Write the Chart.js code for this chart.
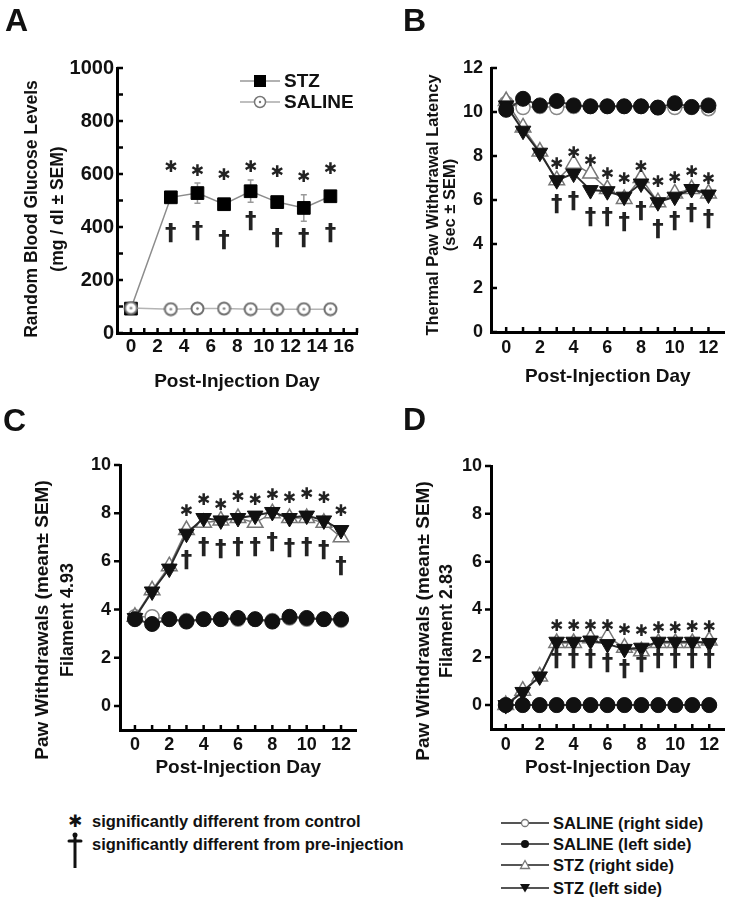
<!DOCTYPE html>
<html>
<head>
<meta charset="utf-8">
<title>STZ time course</title>
<script src="https://cdn.jsdelivr.net/npm/chart.js@4.4.1/dist/chart.umd.min.js"></script>
<style>
  body { margin: 0; background: #fff; }
  #page { position: relative; width: 735px; height: 899px; overflow: hidden;
          font-family: "Liberation Sans", Arial, sans-serif; font-weight: bold; color: #111; }
  #page canvas { position: absolute; }
  .letter { position: absolute; font-size: 32px; line-height: 1; }
  .ytitle { position: absolute; white-space: nowrap; text-align: center;
            transform: translate(-50%, -50%) rotate(-90deg); }
  .leg { position: absolute; white-space: nowrap; display: flex; align-items: center; }
  .leg svg { margin-right: 4px; }
</style>
</head>
<body>
<div id="page">
  <canvas id="chartA" style="left:0;top:0" width="367" height="400"></canvas>
  <canvas id="chartB" style="left:368px;top:0" width="367" height="400"></canvas>
  <canvas id="chartC" style="left:0;top:400px" width="367" height="400"></canvas>
  <canvas id="chartD" style="left:368px;top:400px" width="367" height="400"></canvas>

  <div class="letter" style="left:5px;top:4px">A</div>
  <div class="letter" style="left:403px;top:4px">B</div>
  <div class="letter" style="left:3px;top:404px">C</div>
  <div class="letter" style="left:403px;top:403px">D</div>

  <div class="ytitle" style="left:44px;top:209px;font-size:17.5px;line-height:26px">Random Blood Glucose Levels<br>(mg / dl ± SEM)</div>
  <div class="ytitle" style="left:441px;top:205px;font-size:16.5px;line-height:17px">Thermal Paw Withdrawal Latency<br>(sec ± SEM)</div>
  <div class="ytitle" style="left:55px;top:620px;line-height:24px"><span style="font-size:19px">Paw Withdrawals (mean± SEM)</span><br><span style="font-size:18px">Filament 4.93</span></div>
  <div class="ytitle" style="left:434px;top:621px;line-height:23px"><span style="font-size:19px">Paw Withdrawals (mean± SEM)</span><br><span style="font-size:18px">Filament 2.83</span></div>

  <!-- panel A legend -->
  <div class="leg" style="left:240px;top:70px;font-size:19px;height:22px">
    <svg width="40" height="14"><line x1="0" y1="7" x2="40" y2="7" stroke="#999" stroke-width="1.5"/><rect x="14" y="1" width="12" height="12" fill="#000"/></svg>STZ</div>
  <div class="leg" style="left:240px;top:91px;font-size:19px;height:22px">
    <svg width="40" height="14"><line x1="0" y1="7" x2="40" y2="7" stroke="#aaa" stroke-width="1.5"/><circle cx="20" cy="7" r="5.5" fill="#fff" stroke="#777" stroke-width="1.5"/><circle cx="20" cy="7" r="1.2" fill="#777"/></svg>SALINE</div>

  <!-- bottom legends -->
  <div class="leg" style="left:68px;top:810px;font-size:16.5px;height:22px">
    <span style="display:inline-block;width:24px;font-family:'DejaVu Sans';font-size:17px">✱</span>significantly different from control</div>
  <div class="leg" style="left:68px;top:833px;font-size:16.5px;height:22px">
    <span style="display:inline-block;width:24px"></span>significantly different from pre-injection</div>
  <svg style="position:absolute;left:66px;top:832px" width="18" height="38">
    <circle cx="9" cy="3" r="2.5" fill="#111"/>
    <path d="M9 3 L9 36" stroke="#111" stroke-width="3"/>
    <path d="M3 9 L15 9" stroke="#111" stroke-width="3" stroke-linecap="round"/>
  </svg>

  <div class="leg" style="left:501px;top:812px;font-size:16.5px;height:22px">
    <svg width="48" height="12"><line x1="0" y1="6" x2="48" y2="6" stroke="#555" stroke-width="2"/><circle cx="24" cy="6" r="3.5" fill="#fff" stroke="#777" stroke-width="1.3"/></svg>SALINE (right side)</div>
  <div class="leg" style="left:501px;top:833px;font-size:16.5px;height:22px">
    <svg width="48" height="12"><line x1="0" y1="6" x2="48" y2="6" stroke="#555" stroke-width="2"/><circle cx="24" cy="6" r="4" fill="#111"/></svg>SALINE (left side)</div>
  <div class="leg" style="left:501px;top:854px;font-size:16.5px;height:22px">
    <svg width="48" height="12"><line x1="0" y1="6" x2="48" y2="6" stroke="#555" stroke-width="2"/><path d="M24 1.5 L28.5 9.5 L19.5 9.5 Z" fill="#fff" stroke="#777" stroke-width="1.3"/></svg>STZ (right side)</div>
  <div class="leg" style="left:501px;top:877px;font-size:16.5px;height:22px">
    <svg width="48" height="12"><line x1="0" y1="6" x2="48" y2="6" stroke="#555" stroke-width="2"/><path d="M24 10.5 L29 2 L19 2 Z" fill="#111"/></svg>STZ (left side)</div>
</div>

<script>
// ---- Panel A: random blood glucose (mg/dl) ----
const daysA = [0, 3, 5, 7, 9, 11, 13, 15];
const glucoseStz = [92, 512, 528, 486, 535, 494, 472, 516];
const glucoseStzSem = [5, 12, 38, 10, 42, 15, 50, 14];
const glucoseSaline = [94, 90, 92, 92, 90, 90, 90, 90];
const markDaysA = [3, 5, 7, 9, 11, 13, 15];
const starA = [629, 616, 601, 629, 610, 591, 623];
const daggerA = [377, 384, 352, 421, 358, 358, 377];
const xLabelsA = [0, 2, 4, 6, 8, 10, 12, 14, 16];
const yLabelsA = [0, 200, 400, 600, 800, 1000];

// ---- Panels B-D share days 0..12 ----
const days = [0, 1, 2, 3, 4, 5, 6, 7, 8, 9, 10, 11, 12];
const markDays = [3, 4, 5, 6, 7, 8, 9, 10, 11, 12];
const xLabels = [0, 2, 4, 6, 8, 10, 12];

// B: thermal latency (sec)
const thermSalineRight = [10.4, 10.2, 10.25, 10.2, 10.25, 10.25, 10.25, 10.25, 10.25, 10.2, 10.2, 10.2, 10.15];
const thermSalineLeft = [10.1, 10.6, 10.3, 10.5, 10.3, 10.26, 10.26, 10.26, 10.26, 10.2, 10.4, 10.23, 10.3];
const thermStzRight = [10.5, 9.3, 8.2, 6.9, 7.65, 7.2, 6.5, 6.05, 7.0, 5.9, 6.3, 6.5, 6.3];
const thermStzLeft = [10.3, 9.15, 8.15, 6.9, 7.2, 6.45, 6.4, 6.15, 6.75, 5.9, 6.15, 6.5, 6.25];
const starB = [7.7, 8.2, 7.8, 7.25, 7.0, 7.55, 6.87, 7.06, 7.3, 7.0];
const daggerB = [5.81, 5.96, 5.25, 5.25, 4.98, 5.5, 4.7, 5.05, 5.43, 5.13];
const yLabelsB = [0, 2, 4, 6, 8, 10, 12];

// C: filament 4.93 withdrawals
const f493SalineRight = [3.7, 3.7, 3.6, 3.55, 3.6, 3.6, 3.6, 3.6, 3.55, 3.65, 3.6, 3.6, 3.55];
const f493SalineLeft = [3.6, 3.4, 3.6, 3.5, 3.6, 3.6, 3.65, 3.6, 3.5, 3.7, 3.65, 3.6, 3.6];
const f493StzRight = [3.7, 4.8, 5.8, 7.3, 7.6, 7.7, 7.8, 7.6, 8.0, 7.8, 7.8, 7.6, 7.0];
const f493StzLeft = [3.65, 4.75, 5.7, 7.15, 7.8, 7.7, 7.8, 7.9, 8.05, 7.8, 7.9, 7.7, 7.3];
const starC = [8.13, 8.57, 8.4, 8.7, 8.6, 8.8, 8.66, 8.85, 8.66, 8.13];
const daggerC = [6.06, 6.6, 6.5, 6.6, 6.6, 6.8, 6.54, 6.6, 6.47, 5.82];

// D: filament 2.83 withdrawals
const f283SalineRight = [0, 0, 0, 0, 0, 0, 0, 0, 0, 0, 0, 0, 0];
const f283SalineLeft = [0, 0, 0, 0, 0, 0, 0, 0, 0, 0, 0, 0, 0];
const f283StzRight = [0, 0.6, 1.2, 2.6, 2.6, 2.8, 2.85, 2.4, 2.25, 2.6, 2.6, 2.6, 2.7];
const f283StzLeft = [0, 0.55, 1.2, 2.65, 2.65, 2.7, 2.55, 2.35, 2.4, 2.65, 2.65, 2.65, 2.6];
const starD = [3.33, 3.37, 3.37, 3.33, 3.19, 3.13, 3.26, 3.26, 3.3, 3.3];
const daggerD = [1.91, 1.91, 1.91, 1.78, 1.5, 1.78, 1.91, 1.91, 1.91, 1.91];
const yLabelsCD = [0, 2, 4, 6, 8, 10];

Chart.defaults.font.family = '"Liberation Sans", Arial, sans-serif';
Chart.defaults.font.weight = 'bold';
Chart.defaults.font.size = 18;
Chart.defaults.color = '#111';

const pts = (xs, ys) => xs.map((x, i) => ({ x, y: ys[i] }));

function ringDot() {
  const c = document.createElement('canvas');
  c.width = c.height = 15;
  const g = c.getContext('2d');
  g.fillStyle = '#fff';
  g.strokeStyle = '#6f6f6f';
  g.lineWidth = 2;
  g.beginPath(); g.arc(7.5, 7.5, 6, 0, Math.PI * 2); g.fill(); g.stroke();
  g.fillStyle = '#777';
  g.beginPath(); g.arc(7.5, 7.5, 1.3, 0, Math.PI * 2); g.fill();
  return c;
}

// stars and daggers above / below the STZ points
const sigMarks = {
  id: 'sigMarks',
  afterDatasetsDraw(chart, args, opts) {
    if (!opts.days) return;
    const { ctx, scales: { x, y } } = chart;
    ctx.save();
    ctx.fillStyle = '#222';
    ctx.textAlign = 'center';
    ctx.textBaseline = 'alphabetic';
    const put = (txt, font, px, cy) => {
      ctx.font = font;
      const m = ctx.measureText(txt);
      ctx.fillText(txt, px, cy + (m.actualBoundingBoxAscent - m.actualBoundingBoxDescent) / 2);
    };
    opts.days.forEach((d, i) => {
      const px = x.getPixelForValue(d);
      put('✱', '16px "DejaVu Sans"', px, y.getPixelForValue(opts.star[i]));
      put('†', 'bold 23px "DejaVu Sans"', px, y.getPixelForValue(opts.dagger[i]));
    });
    ctx.restore();
  }
};

// SEM whiskers (panel A)
const semBars = {
  id: 'semBars',
  beforeDatasetsDraw(chart, args, opts) {
    if (!opts.sem) return;
    const { ctx, scales: { x, y } } = chart;
    const data = chart.data.datasets[opts.dataset].data;
    ctx.save();
    ctx.strokeStyle = '#999';
    ctx.lineWidth = 1.5;
    data.forEach((p, i) => {
      const px = x.getPixelForValue(p.x);
      const y1 = y.getPixelForValue(p.y + opts.sem[i]);
      const y2 = y.getPixelForValue(p.y - opts.sem[i]);
      ctx.beginPath();
      ctx.moveTo(px, y1); ctx.lineTo(px, y2);
      ctx.moveTo(px - 3, y1); ctx.lineTo(px + 3, y1);
      ctx.moveTo(px - 3, y2); ctx.lineTo(px + 3, y2);
      ctx.stroke();
    });
    ctx.restore();
  }
};

// short tick marks on the axes (inward on x; inward or outward on y)
const axisTicks = {
  id: 'axisTicks',
  afterDraw(chart, args, opts) {
    const { ctx, chartArea, scales: { x, y } } = chart;
    ctx.save();
    ctx.strokeStyle = '#000';
    ctx.lineWidth = 2.5;
    ctx.beginPath();
    x.ticks.forEach(t => {
      const px = x.getPixelForValue(t.value);
      ctx.moveTo(px, chartArea.bottom);
      ctx.lineTo(px, chartArea.bottom - 5);
    });
    const dir = opts.yOut ? -1 : 1;
    y.ticks.forEach(t => {
      const py = y.getPixelForValue(t.value);
      ctx.moveTo(chartArea.left, py);
      ctx.lineTo(chartArea.left + dir * 6, py);
    });
    ctx.stroke();
    ctx.restore();
  }
};

Chart.register(sigMarks, semBars, axisTicks);

function range(a, b, step) {
  const out = [];
  for (let v = a; v <= b + 1e-9; v += step) out.push(Math.round(v * 1000) / 1000);
  return out;
}

function panel(id, cfg) {
  return new Chart(document.getElementById(id), {
    type: 'line',
    data: { datasets: cfg.datasets },
    options: {
      responsive: false,
      animation: false,
      events: [],
      layout: { padding: { left: 0, top: cfg.top, right: 367 - cfg.right, bottom: 0 } },
      plugins: {
        legend: { display: false },
        tooltip: { enabled: false },
        sigMarks: cfg.marks,
        semBars: cfg.sem || {},
        axisTicks: { yOut: cfg.yOut }
      },
      scales: {
        x: {
          type: 'linear',
          min: cfg.xMin, max: cfg.xMax,
          afterBuildTicks: s => { s.ticks = cfg.xTicks.map(v => ({ value: v })); },
          afterFit: s => { s.height = 400 - cfg.bottom; },
          grid: { display: false, drawTicks: false },
          border: { color: '#000', width: 3 },
          ticks: {
            autoSkip: false, maxRotation: 0, padding: cfg.xPad, font: { size: cfg.xFont || 18 },
            callback: v => cfg.xLabels.includes(v) ? String(v) : ''
          },
          title: {
            display: true, text: 'Post-Injection Day',
            font: { size: 19, weight: 'bold' },
            padding: { top: 0, bottom: cfg.titlePad }
          }
        },
        y: {
          type: 'linear',
          min: cfg.yMin, max: cfg.yMax,
          afterBuildTicks: s => { s.ticks = cfg.yTicks.map(v => ({ value: v })); },
          afterFit: s => { s.width = cfg.left; },
          grid: { display: false, drawTicks: false },
          border: { color: '#000', width: 3 },
          ticks: {
            autoSkip: false, padding: cfg.yPad, font: { size: cfg.yFont || 18 },
            callback: v => cfg.yLabels.includes(v) ? String(v) : ''
          }
        }
      }
    }
  });
}

function sideSets(salineRight, salineLeft, stzRight, stzLeft) {
  return [
    { label: 'SALINE (left side)', data: pts(days, salineLeft), borderColor: '#3a3a3a', borderWidth: 2,
      pointStyle: 'circle', pointRadius: 7.5, pointBackgroundColor: '#111', pointBorderColor: '#111', pointBorderWidth: 1 },
    { label: 'STZ (left side)', data: pts(days, stzLeft), borderColor: '#2a2a2a', borderWidth: 2,
      pointStyle: 'triangle', pointRotation: 180, pointRadius: 9, pointBackgroundColor: '#111', pointBorderColor: '#111', pointBorderWidth: 1 },
    { label: 'STZ (right side)', data: pts(days, stzRight), borderColor: '#777', borderWidth: 1.5,
      pointStyle: 'triangle', pointRadius: 9, pointBackgroundColor: '#fff', pointBorderColor: '#777', pointBorderWidth: 1.5 },
    { label: 'SALINE (right side)', data: pts(days, salineRight), borderColor: '#888', borderWidth: 1.5,
      pointStyle: 'circle', pointRadius: 7, pointBackgroundColor: '#fff', pointBorderColor: '#888', pointBorderWidth: 1.5 }
  ];
}

panel('chartA', {
  left: 117, right: 361, top: 68, bottom: 333,
  xMin: -1.05, xMax: 17, yMin: 0, yMax: 1000,
  xTicks: range(-1, 17, 1), xLabels: xLabelsA,
  yTicks: range(0, 1000, 100), yLabels: yLabelsA,
  xPad: 2, yPad: 3, xFont: 19, yFont: 20, titlePad: 7,
  marks: { days: markDaysA, star: starA, dagger: daggerA },
  sem: { dataset: 0, sem: glucoseStzSem },
  datasets: [
    { label: 'STZ', data: pts(daysA, glucoseStz), order: 1, borderColor: '#8c8c8c', borderWidth: 1.5,
      pointStyle: 'rect', pointRadius: 9, pointBackgroundColor: '#000', pointBorderColor: '#000', pointBorderWidth: 1 },
    { label: 'SALINE', data: pts(daysA, glucoseSaline), order: 0, borderColor: '#b4b4b4', borderWidth: 1.5,
      pointStyle: ringDot(), pointRadius: 7 }
  ]
});

panel('chartB', {
  left: 123, right: 364, top: 68, bottom: 332,
  xMin: -0.9, xMax: 12.95, yMin: 0, yMax: 12,
  xTicks: range(0, 12, 1), xLabels: xLabels,
  yTicks: yLabelsB, yLabels: yLabelsB,
  xPad: 5, yPad: 8, titlePad: 12,
  marks: { days: markDays, star: starB, dagger: daggerB },
  datasets: sideSets(thermSalineRight, thermSalineLeft, thermStzRight, thermStzLeft)
});

panel('chartC', {
  left: 120, right: 360, top: 65, bottom: 330,
  xMin: -0.87, xMax: 12.9, yMin: -1, yMax: 10,
  xTicks: range(0, 12, 1), xLabels: xLabels,
  yTicks: yLabelsCD, yLabels: yLabelsCD,
  xPad: 4, yPad: 9, yOut: true, titlePad: 21,
  marks: { days: markDays, star: starC, dagger: daggerC },
  datasets: sideSets(f493SalineRight, f493SalineLeft, f493StzRight, f493StzLeft)
});

panel('chartD', {
  left: 123, right: 364, top: 66, bottom: 329,
  xMin: -0.87, xMax: 12.9, yMin: -1, yMax: 10,
  xTicks: range(0, 12, 1), xLabels: xLabels,
  yTicks: yLabelsCD, yLabels: yLabelsCD,
  xPad: 5, yPad: 9, yOut: true, titlePad: 21,
  marks: { days: markDays, star: starD, dagger: daggerD },
  datasets: sideSets(f283SalineRight, f283SalineLeft, f283StzRight, f283StzLeft)
});
</script>
</body>
</html>
